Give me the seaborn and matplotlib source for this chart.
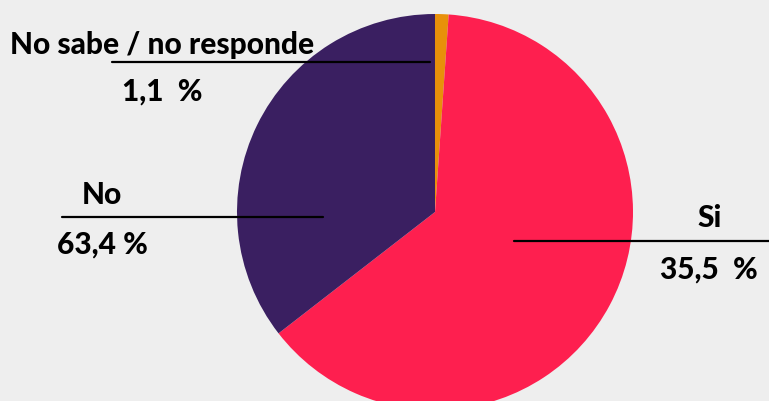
import matplotlib
matplotlib.use("Agg")
import matplotlib.pyplot as plt
import seaborn as sns

# slice values (drawn clockwise from 12 o'clock)
shares = [1.1, 63.4, 35.5]
colors = ["#e8900a", "#fe1f4f", "#3a1f61"]

# label texts as they appear on the chart
names = ["No sabe / no responde", "Si", "No"]
pct_labels = ["1,1  %", "35,5  %", "63,4 %"]

sns.set_theme(style="white")
plt.rcParams["font.family"] = ["Lato", "DejaVu Sans"]

fig = plt.figure(figsize=(7.69, 4.01), dpi=100)
fig.patch.set_facecolor("#eeeeee")
ax = fig.add_axes([0, 0, 1, 1])
ax.set_facecolor("#eeeeee")

ax.pie(shares, colors=colors, startangle=90, counterclock=False,
       center=(435, 189), radius=198, frame=True,
       wedgeprops=dict(linewidth=0))
ax.set_xlim(0, 769)
ax.set_ylim(0, 401)
ax.axis("off")

# leader lines
ax.plot([112, 430], [339, 339], color="black", lw=1.6)
ax.plot([62, 323], [184, 184], color="black", lw=1.6)
ax.plot([514, 769], [160, 160], color="black", lw=1.6)

fs = 21.5
kw = dict(ha="center", va="center", fontsize=fs, fontweight="black", color="black")
ax.text(162, 356, names[0], **kw)
ax.text(162, 309, pct_labels[0], **kw)
ax.text(102, 206, names[2], **kw)
ax.text(102, 156, pct_labels[2], **kw)
ax.text(710, 183, names[1], **kw)
ax.text(709, 131, pct_labels[1], **kw)

fig.savefig("out.png", dpi=100, facecolor=fig.get_facecolor())
